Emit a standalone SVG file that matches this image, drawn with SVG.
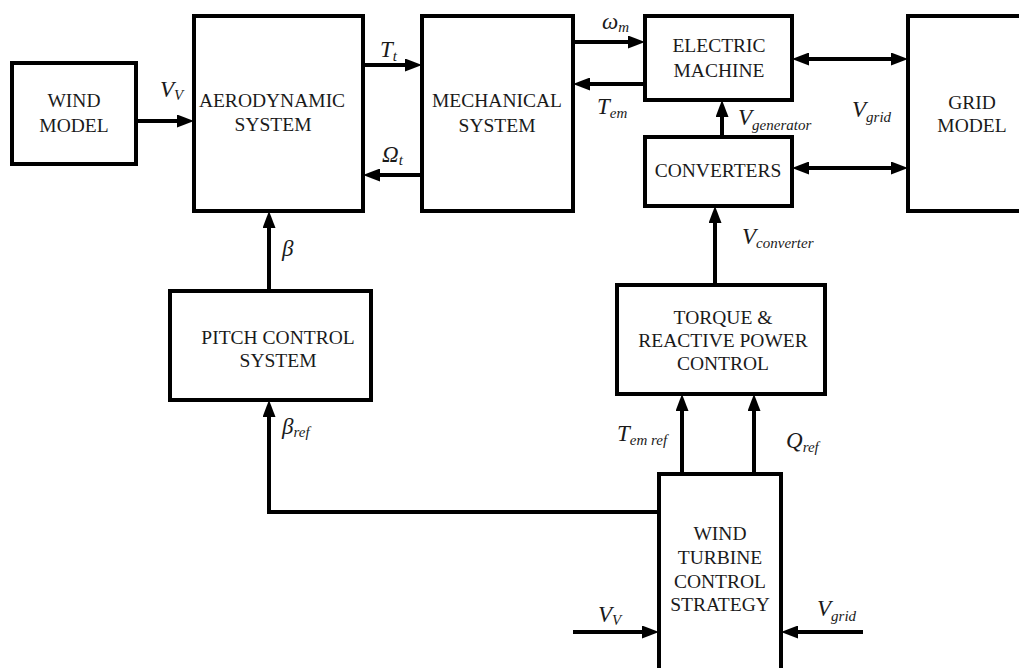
<svg xmlns="http://www.w3.org/2000/svg" width="1019" height="668" viewBox="0 0 1019 668">
<style>
.box{fill:#fff;stroke:#000;stroke-width:4}
.bt{font-family:'Liberation Serif',serif;font-size:19.5px;fill:#1a1a1a;text-anchor:middle}
.lb{font-family:'Liberation Serif',serif;font-style:italic;font-size:23px;fill:#1a1a1a}
.sb{font-size:15px}
.cn{fill:none;stroke:#000;stroke-width:4}
</style>
<defs>
<marker id="ah" markerUnits="userSpaceOnUse" markerWidth="17" markerHeight="13" refX="7" refY="6.5" orient="auto-start-reverse">
<path d="M0,0 L17,6.5 L0,13 z" fill="#000"/>
</marker>
</defs>
<rect width="1019" height="668" fill="#fff"/>
<g id="connectors">
<line class="cn" x1="136" y1="121" x2="184" y2="121" marker-end="url(#ah)"/>
<line class="cn" x1="363" y1="65" x2="412" y2="65" marker-end="url(#ah)"/>
<line class="cn" x1="425" y1="175" x2="373" y2="175" marker-end="url(#ah)"/>
<line class="cn" x1="573" y1="42" x2="635" y2="42" marker-end="url(#ah)"/>
<line class="cn" x1="645" y1="84" x2="583" y2="84" marker-end="url(#ah)"/>
<line class="cn" x1="802" y1="59" x2="898" y2="59" marker-start="url(#ah)" marker-end="url(#ah)"/>
<line class="cn" x1="802" y1="168" x2="898" y2="168" marker-start="url(#ah)" marker-end="url(#ah)"/>
<line class="cn" x1="722" y1="137" x2="722" y2="110" marker-end="url(#ah)"/>
<line class="cn" x1="715" y1="285" x2="715" y2="216" marker-end="url(#ah)"/>
<line class="cn" x1="682" y1="474" x2="682" y2="404" marker-end="url(#ah)"/>
<line class="cn" x1="754" y1="474" x2="754" y2="404" marker-end="url(#ah)"/>
<line class="cn" x1="269" y1="291" x2="269" y2="221" marker-end="url(#ah)"/>
<path class="cn" d="M659,512 H269 V410" marker-end="url(#ah)"/>
<line class="cn" x1="573" y1="632" x2="649" y2="632" marker-end="url(#ah)"/>
<line class="cn" x1="863" y1="632" x2="791" y2="632" marker-end="url(#ah)"/>
<text class="lb" x="160" y="97">V<tspan class="sb" dy="3">V</tspan></text>
<text class="lb" x="380" y="57">T<tspan class="sb" dy="4">t</tspan></text>
<text class="lb" x="382" y="162">Ω<tspan class="sb" dy="3">t</tspan></text>
<text class="lb" x="602" y="29">ω<tspan class="sb" dy="3">m</tspan></text>
<text class="lb" x="597" y="114">T<tspan class="sb" dy="4">em</tspan></text>
<text class="lb" x="738" y="125">V<tspan class="sb" dy="5">generator</tspan></text>
<text class="lb" x="852" y="117">V<tspan class="sb" dy="5">grid</tspan></text>
<text class="lb" x="742" y="244">V<tspan class="sb" dy="4">converter</tspan></text>
<text class="lb" x="282" y="256">β</text>
<text class="lb" x="282" y="434">β<tspan class="sb" dy="3">ref</tspan></text>
<text class="lb" x="617" y="441">T<tspan class="sb" dy="4">em ref</tspan></text>
<text class="lb" x="786" y="448">Q<tspan class="sb" dy="4">ref</tspan></text>
<text class="lb" x="598" y="622">V<tspan class="sb" dy="3">V</tspan></text>
<text class="lb" x="817" y="616">V<tspan class="sb" dy="5">grid</tspan></text>
</g>
<g id="wind">
<rect class="box" x="12" y="63" width="124" height="101"/>
<text class="bt" x="74" y="107">WIND</text>
<text class="bt" x="74" y="132">MODEL</text>
</g>
<g id="aero">
<rect class="box" x="194" y="16" width="169" height="195"/>
<text class="bt" x="272" y="107">AERODYNAMIC</text>
<text class="bt" x="273" y="131">SYSTEM</text>
</g>
<g id="mech">
<rect class="box" x="422" y="16" width="151" height="195"/>
<text class="bt" x="497" y="107">MECHANICAL</text>
<text class="bt" x="497" y="132">SYSTEM</text>
</g>
<g id="elec">
<rect class="box" x="645" y="16" width="147" height="84"/>
<text class="bt" x="719" y="52">ELECTRIC</text>
<text class="bt" x="719" y="77">MACHINE</text>
</g>
<g id="conv">
<rect class="box" x="645" y="137" width="147" height="69"/>
<text class="bt" x="718" y="177">CONVERTERS</text>
</g>
<g id="grid">
<rect class="box" x="908" y="16" width="130" height="195"/>
<text class="bt" x="972" y="109">GRID</text>
<text class="bt" x="972" y="132">MODEL</text>
</g>
<g id="pitch">
<rect class="box" x="170" y="291" width="201" height="109"/>
<text class="bt" x="278" y="344">PITCH CONTROL</text>
<text class="bt" x="278" y="367">SYSTEM</text>
</g>
<g id="torque">
<rect class="box" x="617" y="285" width="208" height="109"/>
<text class="bt" x="723" y="324">TORQUE &amp;</text>
<text class="bt" x="723" y="347">REACTIVE POWER</text>
<text class="bt" x="723" y="370">CONTROL</text>
</g>
<g id="wtcs">
<rect class="box" x="659" y="474" width="122" height="210"/>
<text class="bt" x="720" y="540">WIND</text>
<text class="bt" x="720" y="564">TURBINE</text>
<text class="bt" x="720" y="588">CONTROL</text>
<text class="bt" x="720" y="611">STRATEGY</text>
</g>
</svg>
